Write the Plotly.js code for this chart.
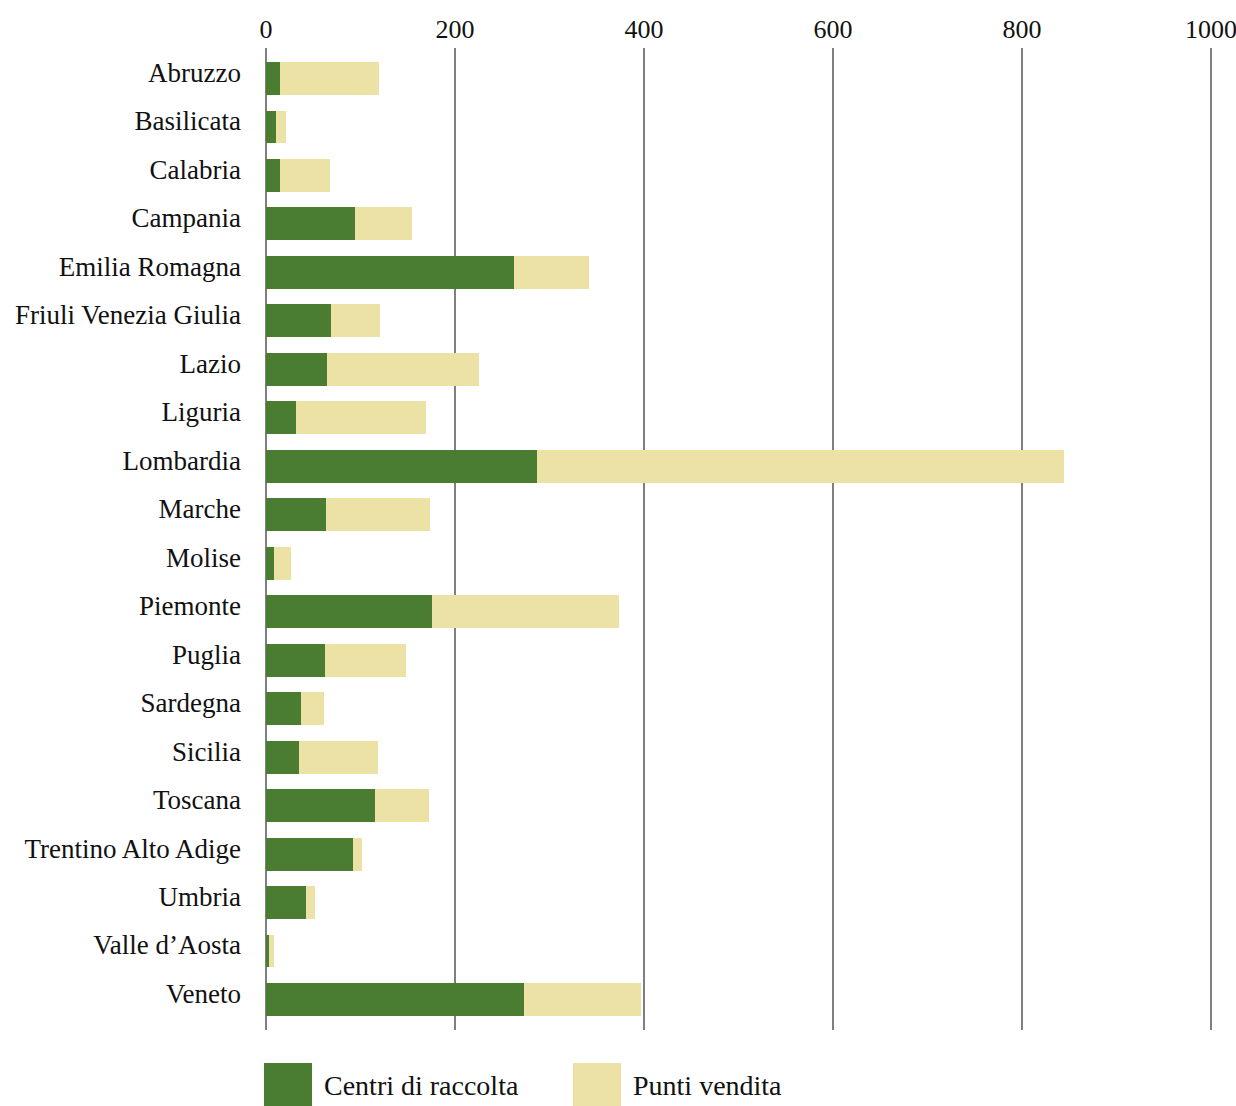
<!DOCTYPE html>
<html>
<head>
<meta charset="utf-8">
<script src="https://cdn.plot.ly/plotly-3.0.1.min.js"></script>
<style>html,body{margin:0;padding:0;background:#fff;}#chart{width:1236px;height:1106px;}</style>
</head>
<body>
<div id="chart"></div>
<script>
const regions = ["Abruzzo","Basilicata","Calabria","Campania","Emilia Romagna","Friuli Venezia Giulia","Lazio","Liguria","Lombardia","Marche","Molise","Piemonte","Puglia","Sardegna","Sicilia","Toscana","Trentino Alto Adige","Umbria","Valle d’Aosta","Veneto"];
const centriDiRaccolta = [15,11,15,94,262,69,65,32,287,64,8,176,62,37,35,115,92,42,3,273];
const puntiVendita = [105,10,53,61,80,52,160,137,557,110,18,198,86,24,83,57,10,10,5,124];
const seriesNames = ["Centri di raccolta","Punti vendita"];
const xTicks = [0,200,400,600,800,1000];

const GREEN = "#4a7c32", YELLOW = "#ece2a5";
const FONT = "Liberation Serif, Times New Roman, serif";

const W = 1236, H = 1106;
const M = {l:266, r:23, t:48, b:76};
const pw = W - M.l - M.r, ph = H - M.t - M.b;
const px = x => (x - M.l) / pw;
const py = y => (H - M.b - y) / ph;

const traces = [
  {type:"bar", orientation:"h", y:regions, x:centriDiRaccolta, name:seriesNames[0],
   marker:{color:GREEN, line:{width:0}}, width:0.68, showlegend:false},
  {type:"bar", orientation:"h", y:regions, x:puntiVendita, name:seriesNames[1],
   marker:{color:YELLOW, line:{width:0}}, width:0.68, showlegend:false}
];

// custom legend (large swatches)
const legendItems = [
  {color:GREEN, x0:264, x1:312, tx:322, text:seriesNames[0]},
  {color:YELLOW, x0:573, x1:621, tx:631, text:seriesNames[1]}
];
const shapes = legendItems.map(it => ({type:"rect", xref:"paper", yref:"paper",
  x0:px(it.x0), x1:px(it.x1), y0:py(1106), y1:py(1063), fillcolor:it.color, line:{width:0}}));
const annotations = legendItems.map(it => ({xref:"paper", yref:"paper", x:px(it.tx), y:py(1085),
  xanchor:"left", yanchor:"middle", showarrow:false, text:it.text,
  font:{family:FONT, size:28, color:"#111"}}));

const layout = {
  width:W, height:H,
  margin:M,
  paper_bgcolor:"#fff", plot_bgcolor:"#fff",
  barmode:"stack",
  font:{family:FONT, size:27, color:"#111"},
  xaxis:{side:"top", range:[0,1002], tickvals:xTicks, ticktext:xTicks.map(String),
    showgrid:true, gridcolor:"#7f7f7f", gridwidth:2, zeroline:true, zerolinecolor:"#7f7f7f", zerolinewidth:2,
    showline:false, ticks:"", ticklabelstandoff:4, ticklabeloverflow:"allow",
    tickfont:{family:FONT, size:26, color:"#111"}},
  yaxis:{range:[19.63,-0.63], type:"category", showgrid:false, zeroline:false, showline:false, ticks:"",
    ticklabelstandoff:24, ticklabelshift:6, tickfont:{family:FONT, size:27, color:"#111"}},
  shapes:shapes,
  annotations:annotations,
  showlegend:false
};

Plotly.newPlot("chart", traces, layout, {displayModeBar:false, staticPlot:true});
</script>
</body>
</html>
